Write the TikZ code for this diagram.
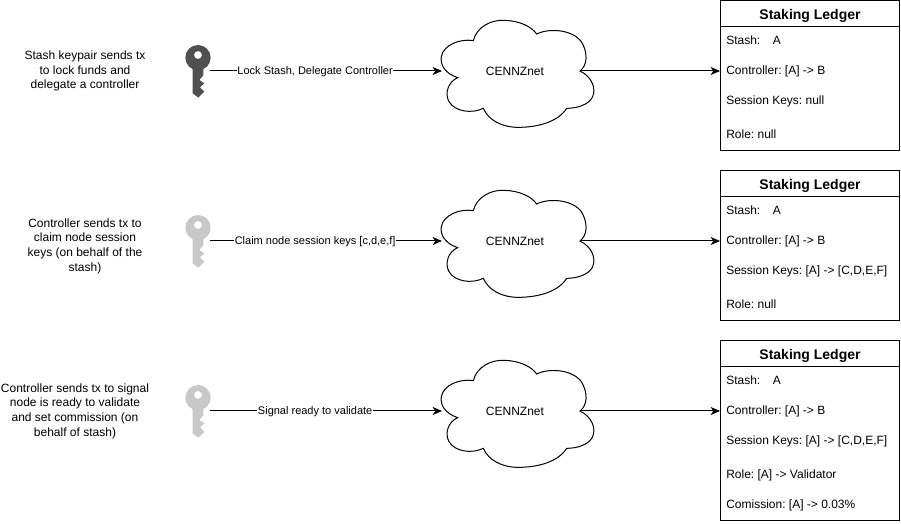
\documentclass[tikz,border=0pt]{standalone}
\usepackage{fontspec}
\setmainfont{Liberation Sans}
\usetikzlibrary{arrows.meta}
\definecolor{keydark}{HTML}{505050}
\definecolor{keylight}{HTML}{C8C8C8}
\tikzset{
  conn/.style={draw=black,line width=0.75pt,-{Stealth[length=7pt,width=6pt,inset=2pt]}},
  edgelabel/.style={fill=white,inner sep=0.5pt,pos=0.4526,yshift=-0.6pt,font=\fontsize{8.25}{10}\selectfont\frenchspacing},
  desc/.style={align=center,inner sep=0pt,yshift=-0.75pt,font=\fontsize{9}{11}\selectfont\frenchspacing},
  cloudtext/.style={inner sep=0pt,font=\fontsize{9}{11}\selectfont},
  ledgerbox/.style={draw=black,line width=0.75pt,fill=white,anchor=north west,inner sep=0pt,minimum width=134.25pt},
  ledgertitle/.style={inner sep=0pt,yshift=-1.5pt,font=\bfseries\fontsize{10.5}{12}\selectfont},
  ledgerline/.style={anchor=west,inner sep=0pt,yshift=-0.6pt,font=\fontsize{9}{11}\selectfont\frenchspacing},
  keyanchor/.style={inner sep=0pt,minimum width=18pt,minimum height=18pt},
  pics/cloudshape/.style={code={
    \begin{scope}[shift={(435,10)},x=0.25pt,y=-0.25pt]
      \draw[line width=0.75pt,fill=white]
        (68,203) .. controls (30,190) and (15,165) .. (19,140)
        .. controls (25,105) and (75,85) .. (115,92)
        .. controls (125,50) and (170,28) .. (210,31)
        .. controls (255,33) and (290,50) .. (305,72)
        .. controls (345,52) and (420,60) .. (442,100)
        .. controls (458,130) and (458,165) .. (435,183)
        .. controls (470,200) and (485,235) .. (472,262)
        .. controls (460,285) and (425,295) .. (395,295)
        .. controls (370,335) and (310,352) .. (250,352)
        .. controls (200,352) and (160,330) .. (145,295)
        .. controls (110,312) and (60,305) .. (42,275)
        .. controls (28,250) and (40,215) .. (68,203) -- cycle;
      \coordinate (-w) at (21,183);
      \coordinate (-e) at (435,183);
    \end{scope}
  }},
  pics/keyshape/.style={code={
    \begin{scope}[shift={(170,30)},x=0.25pt,y=-0.25pt]
      \fill[#1,even odd rule]
        (84,83) circle[radius=38]
        (84,75) circle[radius=12];
      \fill[#1] (68,110) -- (100,110) -- (100,136) -- (88,150) -- (103,160)
        -- (90,172) -- (103,185) -- (85,203) -- (68,190) -- cycle;
    \end{scope}
  }}
}
\begin{document}
\begin{tikzpicture}[x=0.75pt,y=-0.75pt]
\useasboundingbox (0,0) rectangle (901,524);

% Row 1
\node[desc] (d1) at (85,70) {Stash keypair sends tx\\to lock funds and\\delegate a controller};
\pic at (0,0) {keyshape=keydark};
\node[keyanchor] (k1) at (198,71) {};
\pic (c1) at (0,0) {cloudshape};
\node[cloudtext] (t1) at (515,71) {CENNZnet};
\node[ledgerbox,minimum height=19pt] (h1) at (720,0.5) {};
\node[ledgerbox,minimum height=93pt] (b1) at (720,26) {};
\node[ledgertitle] (lt1) at (h1.center) {Staking Ledger};
\node[ledgerline] (s1) at (726,39.2) {Stash:\hspace{1.05em}A};
\node[ledgerline] (r1) at (726,70.8) {Controller: [A] -> B};
\node[ledgerline] (q1) at (726,100.6) {Session Keys: null};
\node[ledgerline] (o1) at (726,133.4) {Role: null};
\draw[conn] (k1.east) -- node[edgelabel] (e1) {Lock Stash, Delegate Controller} (c1-w);
\draw[conn] (c1-e) -- (c1-e -| b1.west);

% Row 2
\begin{scope}[yshift=-127.5pt]
\node[desc] (d2) at (85,75) {Controller sends tx to\\claim node session\\keys (on behalf of the\\stash)};
\pic at (0,0) {keyshape=keylight};
\node[keyanchor] (k2) at (198,71) {};
\pic (c2) at (0,0) {cloudshape};
\node[cloudtext] (t2) at (515,71) {CENNZnet};
\node[ledgerbox,minimum height=19pt] (h2) at (720,0.5) {};
\node[ledgerbox,minimum height=93pt] (b2) at (720,26) {};
\node[ledgertitle] (lt2) at (h2.center) {Staking Ledger};
\node[ledgerline] (s2) at (726,39.2) {Stash:\hspace{1.05em}A};
\node[ledgerline] (r2) at (726,70.8) {Controller: [A] -> B};
\node[ledgerline] (q2) at (726,100.6) {Session Keys: [A] -> [C,D,E,F]};
\node[ledgerline] (o2) at (726,133.4) {Role: null};
\draw[conn] (k2.east) -- node[edgelabel] (e2) {Claim node session keys [c,d,e,f]} (c2-w);
\draw[conn] (c2-e) -- (c2-e -| b2.west);
\end{scope}

% Row 3
\begin{scope}[yshift=-255pt]
\node[desc] (d3) at (75,70) {Controller sends tx to signal\\node is ready to validate\\and set commission (on\\behalf of stash)};
\pic at (0,0) {keyshape=keylight};
\node[keyanchor] (k3) at (198,71) {};
\pic (c3) at (0,0) {cloudshape};
\node[cloudtext] (t3) at (515,71) {CENNZnet};
\node[ledgerbox,minimum height=19pt] (h3) at (720,0.5) {};
\node[ledgerbox,minimum height=115.5pt] (b3) at (720,26) {};
\node[ledgertitle] (lt3) at (h3.center) {Staking Ledger};
\node[ledgerline] (s3) at (726,39.2) {Stash:\hspace{1.05em}A};
\node[ledgerline] (r3) at (726,70.8) {Controller: [A] -> B};
\node[ledgerline] (q3) at (726,100.6) {Session Keys: [A] -> [C,D,E,F]};
\node[ledgerline] (o3) at (726,134.4) {Role: [A] -> Validator};
\node[ledgerline] (m3) at (726,164.6) {Comission: [A] -> 0.03\%};
\draw[conn] (k3.east) -- node[edgelabel] (e3) {Signal ready to validate} (c3-w);
\draw[conn] (c3-e) -- (c3-e -| b3.west);
\end{scope}
\end{tikzpicture}
\end{document}
